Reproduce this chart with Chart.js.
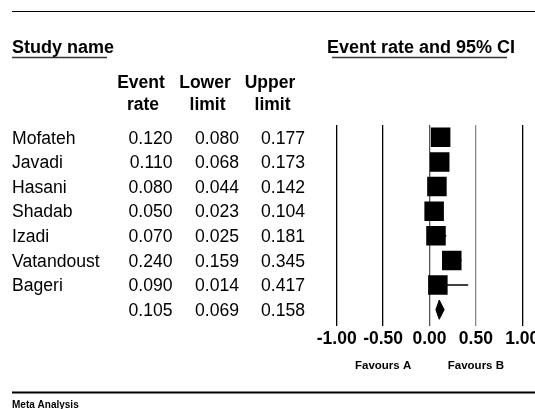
<!DOCTYPE html>
<html>
<head>
<meta charset="utf-8">
<script src="https://cdn.jsdelivr.net/npm/chart.js@4/dist/chart.umd.min.js"></script>
<style>
  html, body { margin: 0; padding: 0; background: #fff; overflow: hidden; }
  #wrap { position: absolute; left: 0; top: 0; width: 560px; height: 409px; }
</style>
</head>
<body>
<div id="wrap"><canvas id="forest" width="560" height="409"></canvas></div>
<script>
// study data
const studies = ['Mofateh', 'Javadi', 'Hasani', 'Shadab', 'Izadi', 'Vatandoust', 'Bageri'];
const eventRate = [0.120, 0.110, 0.080, 0.050, 0.070, 0.240, 0.090];
const lowerLimit = [0.080, 0.068, 0.044, 0.023, 0.025, 0.159, 0.014];
const upperLimit = [0.177, 0.173, 0.142, 0.104, 0.181, 0.345, 0.417];
// pooled row
const pooled = [0.105, 0.069, 0.158];
const xTicks = [-1, -0.5, 0, 0.5, 1];

const FONT = '"Liberation Sans", Arial, sans-serif';
Chart.defaults.font.family = FONT;
Chart.defaults.color = '#000';

const pooledRow = studies.length;

// whiskers, one dataset per study
const ciSets = studies.map((s, i) => ({
  label: s + ' CI',
  data: [{ x: lowerLimit[i], y: i }, { x: upperLimit[i], y: i }],
  showLine: true,
  borderColor: '#000',
  borderWidth: 1.5,
  pointRadius: 0,
  order: 2
}));

const squares = {
  label: 'Event rate',
  data: eventRate.map((r, i) => ({ x: r, y: i })),
  pointStyle: 'rect',
  pointRadius: 13.8,
  backgroundColor: '#000',
  borderWidth: 0,
  order: 0
};

const diamond = {
  label: 'Pooled',
  data: [
    { x: pooled[1], y: pooledRow },
    { x: pooled[0], y: pooledRow - 0.39 },
    { x: pooled[2], y: pooledRow },
    { x: pooled[0], y: pooledRow + 0.39 },
    { x: pooled[1], y: pooledRow }
  ],
  showLine: true,
  fill: 'shape',
  backgroundColor: '#000',
  borderColor: '#000',
  borderWidth: 1,
  pointRadius: 0,
  order: 1
};

// table text, headers and rules
const tablePlugin = {
  id: 'forestTable',
  afterDraw(chart) {
    const ctx = chart.ctx;
    const ys = chart.scales.y;
    const xs = chart.scales.x;
    ctx.save();
    ctx.fillStyle = '#000';
    ctx.strokeStyle = '#000';

    // top and bottom rules
    ctx.lineWidth = 1;
    ctx.beginPath(); ctx.moveTo(12, 11.5); ctx.lineTo(560, 11.5); ctx.stroke();
    ctx.lineWidth = 2;
    ctx.beginPath(); ctx.moveTo(12, 392.5); ctx.lineTo(560, 392.5); ctx.stroke();

    // headers
    ctx.textBaseline = 'alphabetic';
    ctx.textAlign = 'left';
    ctx.font = 'bold 18px ' + FONT;
    ctx.fillText('Study name', 12, 53);
    ctx.fillText('Event rate and 95% CI', 327, 53);
    ctx.strokeStyle = '#333';
    ctx.lineWidth = 1.5;
    ctx.beginPath(); ctx.moveTo(12, 57.5); ctx.lineTo(107, 57.5); ctx.stroke();
    ctx.beginPath(); ctx.moveTo(332, 57.5); ctx.lineTo(507, 57.5); ctx.stroke();

    ctx.font = 'bold 17.5px ' + FONT;
    ctx.textAlign = 'center';
    ctx.fillText('Event', 141, 87.5);
    ctx.fillText('rate', 143, 109.5);
    ctx.fillText('Lower', 205, 87.5);
    ctx.fillText('limit', 207.5, 109.5);
    ctx.fillText('Upper', 270, 87.5);
    ctx.fillText('limit', 272.5, 109.5);

    // rows
    ctx.font = '17.6px ' + FONT;
    studies.forEach((s, i) => {
      const y = ys.getPixelForValue(i) + 6.2;
      ctx.textAlign = 'left';
      ctx.fillText(s, 12, y);
      ctx.textAlign = 'right';
      ctx.fillText(eventRate[i].toFixed(3), 172.5, y);
      ctx.fillText(lowerLimit[i].toFixed(3), 239, y);
      ctx.fillText(upperLimit[i].toFixed(3), 305, y);
    });
    const py = ys.getPixelForValue(pooledRow) + 6.2;
    ctx.fillText(pooled[0].toFixed(3), 172.5, py);
    ctx.fillText(pooled[1].toFixed(3), 239, py);
    ctx.fillText(pooled[2].toFixed(3), 305, py);

    // favours labels
    ctx.font = 'bold 11.5px ' + FONT;
    ctx.textAlign = 'center';
    ctx.fillText('Favours A', xs.getPixelForValue(-0.5), 368.5);
    ctx.fillText('Favours B', xs.getPixelForValue(0.5), 368.5);

    ctx.font = 'bold 10px ' + FONT;
    ctx.textAlign = 'left';
    ctx.fillText('Meta Analysis', 12, 407.5);
    ctx.restore();
  }
};

const gridColor = (v) => {
  if (v === 0) return '#555';
  if (v === 0.5) return '#888';
  return '#000';
};

new Chart(document.getElementById('forest'), {
  type: 'scatter',
  data: { datasets: [squares, diamond].concat(ciSets) },
  options: {
    responsive: false,
    animation: false,
    events: [],
    layout: { padding: { left: 336.7, right: 37.7, top: 125, bottom: 59 } },
    plugins: { legend: { display: false }, tooltip: { enabled: false } },
    scales: {
      x: {
        type: 'linear',
        min: -1,
        max: 1,
        afterBuildTicks: (scale) => { scale.ticks = xTicks.map(v => ({ value: v })); },
        afterFit: (scale) => { scale.height = 28; },
        border: { display: false },
        grid: {
          color: (c) => gridColor(c.tick ? c.tick.value : null),
          lineWidth: 1.3,
          tickLength: 4
        },
        ticks: {
          padding: 3,
          maxRotation: 0,
          font: { size: 17.5, weight: 'bold' },
          callback: (v) => Number(v).toFixed(2)
        }
      },
      y: {
        type: 'linear',
        display: false,
        reverse: true,
        min: -0.5,
        max: 7.5
      }
    }
  },
  plugins: [tablePlugin]
});
</script>
</body>
</html>
